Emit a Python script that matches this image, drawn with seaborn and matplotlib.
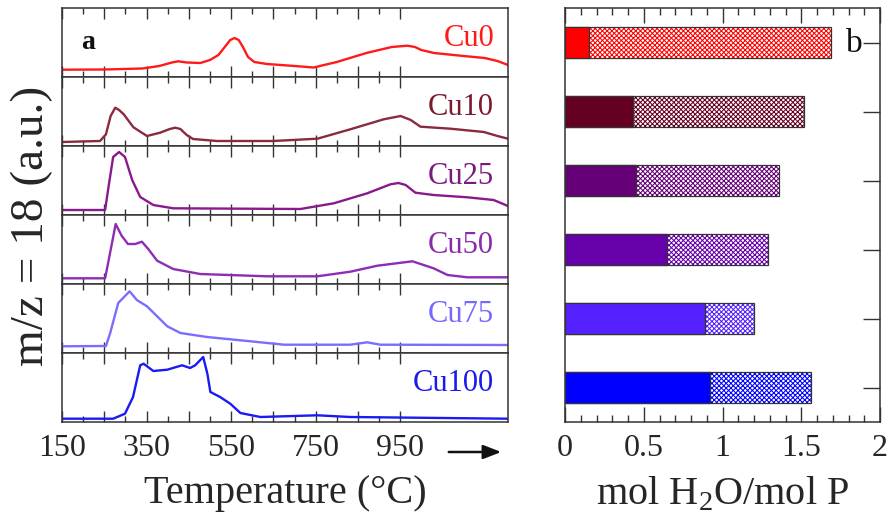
import matplotlib
matplotlib.use("Agg")
import matplotlib.pyplot as plt
import numpy as np
import pandas as pd
import seaborn as sns
from matplotlib.ticker import FixedLocator, FixedFormatter, MultipleLocator

# ---- data -------------------------------------------------------------
samples = ["Cu0", "Cu10", "Cu25", "Cu50", "Cu75", "Cu100"]

# m/z = 18 desorption traces: temperature (°C) and signal (a.u.)
t_cu0 = [150, 250, 340, 380, 410, 425, 445, 477, 500, 520, 535, 548, 558, 568,
         578, 590, 605, 635, 700, 745, 800, 870, 930, 967, 985, 1000, 1030,
         1100, 1150, 1180, 1205]
s_cu0 = [7.3, 7.5, 8.5, 11, 14.5, 15.7, 14.5, 14, 17, 22, 30, 37, 39, 37,
         30, 20, 15, 13, 11, 9.5, 15, 24, 30, 31.3, 30, 27, 24,
         21, 19, 16, 12]

t_cu10 = [150, 240, 254, 265, 276, 285, 296, 319, 351, 382, 405, 418, 430,
          445, 460, 517, 650, 754, 832, 911, 951, 975, 998, 1069, 1148,
          1180, 1205]
s_cu10 = [4, 5, 11.7, 30, 38.3, 36, 31.7, 18.7, 10, 13.3, 17, 18.3, 17,
          11, 7, 5, 5, 7.3, 16.7, 26.7, 30, 26, 19.3, 17.3, 14,
          10, 7.3]

t_cu25 = [150, 252, 260, 271, 285, 299, 316, 335, 366, 413, 714, 793, 872,
          927, 946, 963, 986, 1029, 1109, 1171, 1205]
s_cu25 = [5, 5, 28, 58, 63, 58, 35, 18, 10, 6.7, 6, 11.7, 21.7,
          30.7, 32, 30, 22.3, 20, 17.7, 15, 9]

t_cu50 = [150, 252, 264, 277, 291, 306, 323, 339, 354, 375, 413, 477, 635,
          754, 832, 896, 979, 1029, 1062, 1109, 1205]
s_cu50 = [5.7, 5.7, 31.7, 60, 48.3, 40, 40, 42.3, 35, 23.3, 15, 10, 7.7,
          7.7, 12.3, 18.3, 22.7, 15.7, 9, 6.7, 6.7]

t_cu75 = [150, 254, 264, 283, 310, 327, 351, 375, 399, 430, 493, 596, 675,
          832, 872, 903, 1205]
s_cu75 = [6.7, 7, 20, 50, 61.7, 53, 46.7, 36.7, 26.7, 20, 16, 11.7, 8.3,
          8.3, 10.7, 8.3, 8]

t_cu100 = [150, 271, 299, 318, 335, 343, 366, 399, 434, 453, 465, 484, 494,
           501, 524, 548, 572, 619, 754, 832, 1205]
s_cu100 = [3.3, 3.3, 8.3, 25, 56.7, 58.3, 51, 52.3, 56.7, 54, 56.7, 65, 48,
           30, 25, 18.3, 9, 5, 6.7, 5, 3.3]

traces_t = [t_cu0, t_cu10, t_cu25, t_cu50, t_cu75, t_cu100]
traces_s = [s_cu0, s_cu10, s_cu25, s_cu50, s_cu75, s_cu100]

# water released (mol H2O / mol P): low-temperature part and total
h2o_low = [0.15, 0.43, 0.45, 0.65, 0.89, 0.92]
h2o_total = [1.69, 1.52, 1.36, 1.29, 1.20, 1.56]

temp_ticks = [150, 350, 550, 750, 950]
mol_ticks = [0, 0.5, 1, 1.5, 2]

# ---- style ------------------------------------------------------------
line_colors = ["#ff1a1a", "#8a2a3e", "#8a1a8c", "#8e2cb4", "#7a6cff", "#1a1af2"]
label_colors = ["#ff1a1a", "#7a1a2c", "#7a1a7c", "#8a2aaa", "#7468ff", "#1a1aee"]
bar_colors = ["#ff0000", "#660022", "#660077", "#6600aa", "#5522ff", "#0000ff"]

sns.set_style("ticks")
plt.rcParams["font.family"] = ["Liberation Serif", "DejaVu Serif"]
plt.rcParams["mathtext.fontset"] = "custom"
plt.rcParams["mathtext.rm"] = "Liberation Serif"
plt.rcParams["hatch.linewidth"] = 0.75
edge = "#333333"

W, H = 891, 527
fig = plt.figure(figsize=(W / 100, H / 100), dpi=100)

def fx(px):
    return px / W

def fy(py):
    return 1 - py / H

# ---- panel a: stacked traces -----------------------------------------
left, right, top, bottom = 62, 508, 8, 422
ph = (bottom - top) / len(samples)
axes_a = []
for i, name in enumerate(samples):
    y1 = top + i * ph
    ax = fig.add_axes([fx(left), fy(y1 + ph), fx(right - left), ph / H])
    df = pd.DataFrame({"T": traces_t[i], "S": traces_s[i]})
    sns.lineplot(data=df, x="T", y="S", ax=ax, color=line_colors[i],
                 lw=1.7, estimator=None)
    ax.set_xlim(150, 1205)
    ax.set_ylim(0, 69)
    ax.set_xlabel("")
    ax.set_ylabel("")
    ax.set_yticks([])
    ax.xaxis.set_major_locator(FixedLocator(list(range(150, 951, 100))))
    ax.xaxis.set_minor_locator(FixedLocator(list(range(200, 901, 100))))
    ax.xaxis.set_major_formatter(
        FixedFormatter([str(v) if v in temp_ticks else "" for v in range(150, 951, 100)]))
    ax.tick_params(axis="x", which="both", direction="in", top=True, bottom=True,
                   color=edge, width=1.0, labelsize=23, pad=9,
                   labelbottom=(i == len(samples) - 1))
    ax.tick_params(axis="x", which="major", length=8)
    ax.tick_params(axis="x", which="minor", length=4.5)
    for sp in ax.spines.values():
        sp.set_visible(True)
        sp.set_color(edge)
        sp.set_linewidth(1.1)
    ax.text(0.969, 0.56, name, transform=ax.transAxes, ha="right", va="center",
            fontsize=22, color=label_colors[i])
    axes_a.append(ax)

axes_a[0].text(0.058, 0.5, "a", transform=axes_a[0].transAxes, ha="center",
               va="center", fontsize=20, fontweight="bold", color="#111111")
axes_a[-1].set_xlabel("Temperature (°C)", fontsize=29, labelpad=8)

fig.text(fx(32), fy(226), "m/z = 18 (a.u.)", rotation=90, ha="center",
         va="center", fontsize=34)

# arrow after the last temperature label
fig.add_artist(matplotlib.patches.FancyArrowPatch(
    (fx(446), fy(452)), (fx(504), fy(452)), transform=fig.transFigure,
    arrowstyle="-|>,head_length=0.9,head_width=0.35", color="#111111", lw=1.8,
    mutation_scale=12))

# ---- panel b: water released ----------------------------------------
axb = fig.add_axes([fx(565), fy(422), fx(880 - 565), (422 - 8) / H])
df_b = pd.DataFrame({"sample": samples, "total": h2o_total, "low": h2o_low})
pal = dict(zip(samples, bar_colors))

# total amount: hatched, white background
sns.barplot(data=df_b, y="sample", x="total", hue="sample", palette=pal,
            orient="h", width=0.45, legend=False, saturation=1, ax=axb)
hatched = list(axb.patches)
for p, c in zip(hatched, bar_colors):
    p.set_facecolor("white")
    p.set_edgecolor(c)
    p.set_hatch("xxxxxxx")
    p.set_linewidth(0)

# outlines of the total bars
sns.barplot(data=df_b, y="sample", x="total", hue="sample", palette=pal,
            orient="h", width=0.45, legend=False, saturation=1, ax=axb)
for p in axb.patches[len(hatched):]:
    p.set_facecolor("none")
    p.set_edgecolor(edge)
    p.set_linewidth(0.9)
n_done = len(axb.patches)

# low-temperature part: solid fill
sns.barplot(data=df_b, y="sample", x="low", hue="sample", palette=pal,
            orient="h", width=0.45, legend=False, saturation=1, ax=axb)
for p in axb.patches[n_done:]:
    p.set_edgecolor(edge)
    p.set_linewidth(0.9)

axb.set_xlim(0, 2)
axb.set_ylim(5.5, -0.5)
axb.set_xlabel("mol H$_2$O/mol P", fontsize=29, labelpad=8)
axb.set_ylabel("")
axb.xaxis.set_major_locator(FixedLocator(mol_ticks))
axb.xaxis.set_major_formatter(FixedFormatter([f"{v:g}" for v in mol_ticks]))
axb.xaxis.set_minor_locator(MultipleLocator(0.1))
axb.tick_params(axis="x", which="both", direction="in", top=True, bottom=True,
                color=edge, width=1.0, labelsize=23, pad=9)
axb.tick_params(axis="x", which="major", length=11)
axb.tick_params(axis="x", which="minor", length=5)
axb.yaxis.tick_right()
axb.tick_params(axis="y", which="major", direction="in", length=12, width=1.0,
                color=edge, left=False, right=True, labelright=False,
                labelleft=False)
for sp in axb.spines.values():
    sp.set_visible(True)
    sp.set_color(edge)
    sp.set_linewidth(1.1)
axb.text(0.92, 0.913, "b", transform=axb.transAxes, ha="center", va="center",
         fontsize=24, color="#111111")

fig.savefig("out.png", dpi=100)
